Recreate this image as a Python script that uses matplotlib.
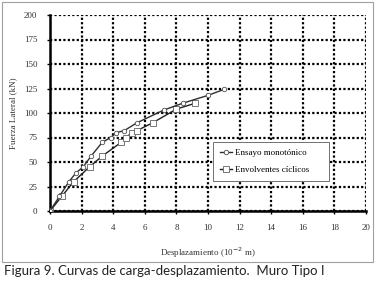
import matplotlib
matplotlib.use("Agg")
import matplotlib.pyplot as plt
from matplotlib.patches import Rectangle

# Ensayo monotónico
mono_x = [0, 0.6, 1.2, 1.65, 2.1, 2.6, 3.3, 3.85, 4.2, 4.7, 5.5, 7.2, 8.4, 10.0, 11.0]
mono_y = [0, 15, 30, 39, 45, 56, 70, 75, 80, 82, 90, 103, 110, 118, 124]

# Envolventes cíclicos
cyc_x = [0, 0.75, 1.5, 2.5, 3.3, 4.5, 4.8, 5.2, 5.5, 6.5, 8.0, 9.2]
cyc_y = [0, 15, 30, 45, 56, 70, 75, 80, 82, 90, 104, 110]

x_ticks = list(range(0, 21, 2))
y_ticks = list(range(0, 201, 25))

serif = ["Liberation Serif", "DejaVu Serif"]

fig = plt.figure(figsize=(3.76, 2.83), dpi=100)
fig.patches.append(Rectangle((2 / 376, 1 - 262 / 283), 371 / 376, 260 / 283,
                             transform=fig.transFigure, fill=False,
                             edgecolor="#a0a0a0", linewidth=0.8))

ax = fig.add_axes([50 / 376, 1 - 211 / 283, 316 / 376, 196 / 283])

ax.plot(mono_x, mono_y, color="#303030", linewidth=1.0, marker="o", markersize=3.2,
        markerfacecolor="white", markeredgecolor="#505050", markeredgewidth=0.6,
        label="Ensayo monotónico", zorder=4)
ax.plot(cyc_x, cyc_y, color="#202020", linewidth=1.0, marker="s", markersize=4.8,
        markerfacecolor="white", markeredgecolor="#606060", markeredgewidth=0.6,
        label="Envolventes cíclicos", zorder=3)

ax.set_xlim(0, 20)
ax.set_ylim(0, 200)
ax.set_xticks(x_ticks)
ax.set_yticks(y_ticks)
ax.grid(True, color="black", linestyle=(0, (1, 1)), linewidth=1.6)
ax.set_axisbelow(True)

for side in ["top", "right"]:
    ax.spines[side].set_visible(False)
for side in ["left", "bottom"]:
    ax.spines[side].set_linewidth(1.8)

ax.tick_params(direction="out", length=2, width=1, labelsize=6.5, pad=7)
for lab in ax.get_xticklabels() + ax.get_yticklabels():
    lab.set_family(serif)
    lab.set_color("#333333")

ax.set_xlabel("Desplazamiento (10$^{-2}$ m)", family=serif, fontsize=6.5,
              color="#333333", labelpad=10)
ax.set_ylabel("Fuerza Lateral (kN)", family=serif, fontsize=6.5,
              color="#333333", labelpad=5)

leg = ax.legend(loc="lower left", bbox_to_anchor=(0.516, 0.153, 0.367, 0.19),
                mode="expand", prop={"family": serif, "size": 6.5},
                frameon=True, fancybox=False, edgecolor="#707070", framealpha=1,
                handlelength=1.4, handletextpad=0.3, labelspacing=1.0,
                borderpad=0.75, borderaxespad=0)
leg.get_frame().set_linewidth(0.7)
leg.set_zorder(5)

fig.text(4 / 376, 1 - 271 / 283, "Figura 9. Curvas de carga-desplazamiento.  Muro Tipo I",
         family=["Lato", "DejaVu Sans"], fontsize=9.5, color="#222222", va="center")

fig.savefig("out.png", dpi=100)
